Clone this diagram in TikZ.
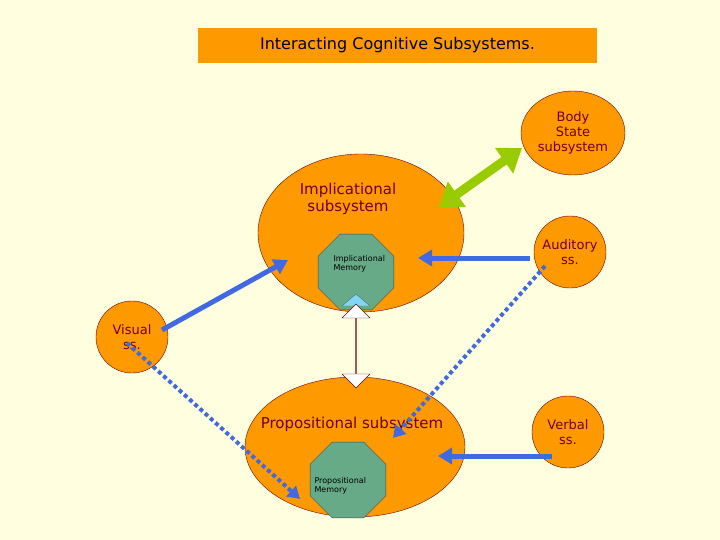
\documentclass[tikz,border=0pt]{standalone}
\usepackage{fontspec}
\setmainfont{DejaVu Sans}
\usetikzlibrary{shapes.geometric,shapes.arrows,arrows.meta}
\definecolor{bg}{RGB}{255,255,224}
\definecolor{org}{RGB}{255,153,0}
\definecolor{txt}{RGB}{110,0,20}
\definecolor{memg}{RGB}{102,170,136}
\definecolor{flow}{RGB}{65,105,225}
\definecolor{lime}{RGB}{153,204,0}
\tikzset{
  blob/.style={ellipse,fill=org,draw=txt,thin,inner sep=0pt},
  ss/.style={circle,fill=org,draw=txt,thin,minimum size=72pt,inner sep=0pt,
    text=txt,font=\fontsize{13}{15}\selectfont,align=center},
  mem/.style={regular polygon,regular polygon sides=8,fill=memg,draw=black!70,
    thin,minimum size=80pt,inner sep=0pt},
  memtext/.style={font=\fontsize{8}{9}\selectfont,align=left,anchor=west},
  feed/.style={flow,line width=5pt,-{Triangle[length=14pt,width=16pt]}},
  dotfeed/.style={flow,line width=4pt,dash pattern=on 4pt off 3pt,
    -{Triangle[length=12pt,width=14pt]}},
  bigtext/.style={text=txt,font=\fontsize{15}{17}\selectfont,align=center},
}
\begin{document}
\begin{tikzpicture}[x=1pt,y=-1pt]
\fill[bg] (0,0) rectangle (720,540);
\useasboundingbox (0,0) rectangle (720,540);

\node[fill=org,minimum width=399pt,minimum height=35pt,
  font=\fontsize{16}{18}\selectfont] (title) at (397.5,45.5) {Interacting Cognitive Subsystems.};

\node[blob,minimum width=104pt,minimum height=84pt,text=txt,align=center,
  font=\fontsize{13}{15}\selectfont] (body) at (573,133) {Body\\State\\subsystem};

\node[blob,minimum width=206pt,minimum height=158pt] (imp) at (361,233) {};
\node[bigtext] (implabel) at (348,199) {Implicational\\subsystem};

\node[blob,minimum width=220pt,minimum height=140pt] (prop) at (355,447) {};
\node[bigtext] (proplabel) at (352,424) {Propositional subsystem};

\node[mem,minimum size=82pt] (impmem) at (356,272) {};
\node[memtext] (impmemtxt) at (330,264) {Implicational\\Memory};
\node[mem,minimum size=82pt] (propmem) at (348,480) {};
\node[memtext] (propmemtxt) at (311,486) {Propositional\\Memory};

\node[ss] (vis) at (132,337) {Visual\\ss.};
\node[ss] (aud) at (570,252) {Auditory\\ss.};
\node[ss] (verb) at (568,432) {Verbal\\ss.};

% cyan tip under the implicational memory
\fill[cyan!50,draw=black!60] (342,306) -- (356,294) -- (370,306) -- cycle;

% two-way white arrow
\node[double arrow,double arrow head extend=4pt,shape border rotate=90,
  fill=white,draw=txt,minimum width=28pt,minimum height=84pt,inner sep=0pt]
  (link) at (356,346) {};

% green two-way arrow
\coordinate (g1) at (439,207);
\coordinate (g2) at (522,148);
\draw[lime,line width=9pt,{Triangle[length=22pt,width=30pt]}-{Triangle[length=22pt,width=30pt]}]
  (g1) -- (g2);

\coordinate (visout) at (162,330);
\coordinate (impin) at (288,260);
\draw[feed] (visout) -- (impin);
\coordinate (audout) at (530,258);
\coordinate (impin2) at (418,258);
\draw[feed] (audout) -- (impin2);
\coordinate (verbout) at (552,456);
\coordinate (propin) at (438,456);
\draw[feed] (verbout) -- (propin);
\coordinate (visdot) at (127,343);
\coordinate (propdot) at (300,499);
\draw[dotfeed] (visdot) -- (propdot);
\coordinate (auddot) at (545,266);
\coordinate (propdot2) at (393,438);
\draw[dotfeed] (auddot) -- (propdot2);
\end{tikzpicture}
\end{document}
